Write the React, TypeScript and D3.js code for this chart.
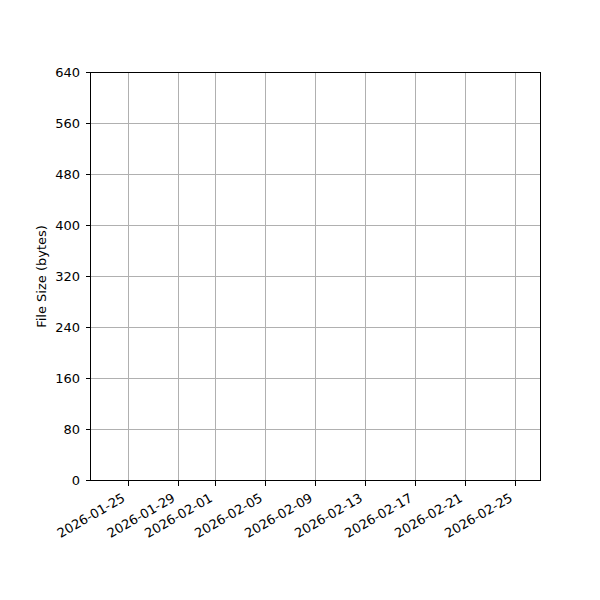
import React from "react";
import * as d3 from "d3";

const yTicks = [0, 80, 160, 240, 320, 400, 480, 560, 640];
const xTickDates = [
  "2026-01-25", "2026-01-29", "2026-02-01", "2026-02-05", "2026-02-09",
  "2026-02-13", "2026-02-17", "2026-02-21", "2026-02-25",
];
const xDomain = ["2026-01-22", "2026-02-27"];
const yDomain = [0, 640];
const yLabel = "File Size (bytes)";

const W = 600, H = 600;
const M = { left: 90.5, right: 540.5, top: 72.5, bottom: 480.5 };
const FONT = "DejaVu Sans";
const FS = 13;

export default function App() {
  const parse = d3.utcParse("%Y-%m-%d");
  const x = d3.scaleUtc().domain(xDomain.map((s) => parse(s)!)).range([M.left, M.right]);
  const y = d3.scaleLinear().domain(yDomain).range([M.bottom, M.top]);
  const grid = "#b0b0b0";
  return (
    <svg width={W} height={H} style={{ position: "absolute", left: 0, top: 0, background: "#fff" }} fontFamily={FONT} fontSize={FS}>
      <rect x={0} y={0} width={W} height={H} fill="#fff" />
      <g shapeRendering="crispEdges">
        {xTickDates.map((s) => {
          const xx = x(parse(s)!);
          return <line key={"gx" + s} x1={xx} x2={xx} y1={M.top} y2={M.bottom} stroke={grid} strokeWidth={1} />;
        })}
        {yTicks.map((t) => (
          <line key={"gy" + t} x1={M.left} x2={M.right} y1={y(t)} y2={y(t)} stroke={grid} strokeWidth={1} />
        ))}
        <rect x={M.left} y={M.top} width={M.right - M.left} height={M.bottom - M.top} fill="none" stroke="#000" strokeWidth={1} />
      </g>
      {yTicks.map((t) => (
        <g key={"ty" + t}>
          <line x1={M.left - 5} x2={M.left} y1={y(t)} y2={y(t)} stroke="#000" strokeWidth={1} shapeRendering="crispEdges" />
          <text x={80} y={y(t)} dy="0.36em" textAnchor="end" fill="#000">{t}</text>
        </g>
      ))}
      {xTickDates.map((s) => {
        const xx = x(parse(s)!);
        return (
          <g key={"tx" + s}>
            <line x1={xx} x2={xx} y1={M.bottom} y2={M.bottom + 5} stroke="#000" strokeWidth={1} shapeRendering="crispEdges" />
            <text transform={`translate(${xx - 2},${M.bottom + 20}) rotate(-30)`} textAnchor="end" fill="#000">{s}</text>
          </g>
        );
      })}
      <text transform={`translate(46,${(M.top + M.bottom) / 2}) rotate(-90)`} textAnchor="middle" fill="#000">{yLabel}</text>
    </svg>
  );
}
